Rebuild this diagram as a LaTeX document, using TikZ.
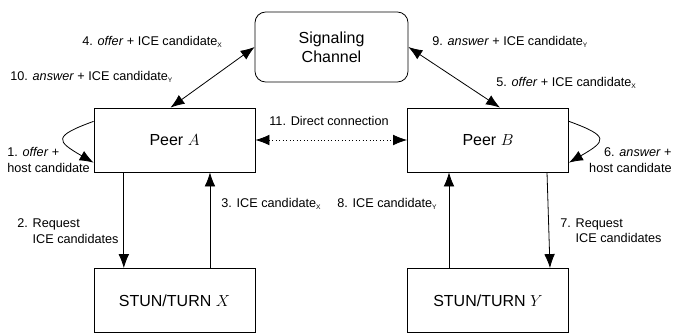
\documentclass[tikz,border=0pt]{standalone}
\usepackage{fontspec}
\setmainfont{Liberation Sans}
\usetikzlibrary{arrows.meta}
\tikzset{>={Latex[length=10.5pt,width=8pt]}}
\tikzset{box/.style = {draw, line width = 0.6pt, minimum width = 120.75pt, minimum height = 48pt, font = \fontsize{12}{14}\selectfont},
lbl/.style = {inner sep = 0pt, font = \fontsize{9.5}{11.5}\selectfont}}
\newcommand{\cand}[1]{ICE candidate\textsubscript{\tiny #1}}

\begin{document}
\begin{tikzpicture}[x = {(0.75pt,0)}, y = {(0,-0.75pt)}, line width = 0.6pt]
\useasboundingbox (0,0) rectangle (673,333);
\node[box, rounded corners = 8pt, minimum width = 114.75pt, minimum height = 52.5pt, align = center] (sig) at (331.5, 47) {Signaling\\Channel};
\node[box] (peerA) at (174.5, 140) {Peer $A$};
\node[box] (peerB) at (488, 140) {Peer $B$};
\node[box] (stunX) at (174.5, 300.5) {STUN/TURN $X$};
\node[box] (stunY) at (488, 300.5) {STUN/TURN $Y$};

\draw[<->] (sig.west) -- ([xshift = -3pt]peerA.north);
\draw[<->] (sig.east) -- ([xshift = 9pt]peerB.north);
\draw[<->, dotted] (peerA.east) -- (peerB.west);
\draw[->] ([yshift = 14pt]peerA.west) to[out = 200, in = 150, looseness = 2.7] ([yshift = -17pt]peerA.west);
\draw[->] ([yshift = 14pt]peerB.east) to[out = -20, in = 30, looseness = 2.7] ([yshift = -17pt]peerB.east);
\draw[->] ([xshift = -38pt]peerA.south) -- ([xshift = -38pt]stunX.north);
\draw[->] ([xshift = 26.6pt]stunX.north) -- ([xshift = 26.6pt]peerA.south);
\draw[->] ([xshift = -29.25pt]stunY.north) -- ([xshift = -29.25pt]peerB.south);
\draw[->] ([xshift = 44.25pt]peerB.south) -- ([xshift = 46.5pt]stunY.north);

\node[lbl, anchor = west] (l4) at (82, 42) {4. \textit{offer} + \cand{X}};
\node[lbl, anchor = west] (l10) at (10, 77) {10. \textit{answer} + \cand{Y}};
\node[lbl, anchor = west] (l9) at (432, 42) {9. \textit{answer} + \cand{Y}};
\node[lbl, anchor = west] (l5) at (496, 83) {5. \textit{offer} + \cand{X}};
\node[lbl] (l11) at (329, 121) {11. Direct connection};
\node[lbl, anchor = west, align = left] (l1) at (7, 160) {1. \textit{offer} +\\host candidate};
\node[lbl, anchor = east, align = right] (l6) at (672, 160) {6. \textit{answer} +\\host candidate};
\node[lbl, anchor = west, align = left] (l2) at (17, 231) {2. Request\\\phantom{2. }ICE candidates};
\node[lbl, anchor = west] (l3) at (221, 204) {3. \cand{X}};
\node[lbl, anchor = west] (l8) at (337, 204) {8. \cand{Y}};
\node[lbl, anchor = west, align = left] (l7) at (560, 231) {7. Request\\\phantom{7. }ICE candidates};
\end{tikzpicture}
\end{document}
